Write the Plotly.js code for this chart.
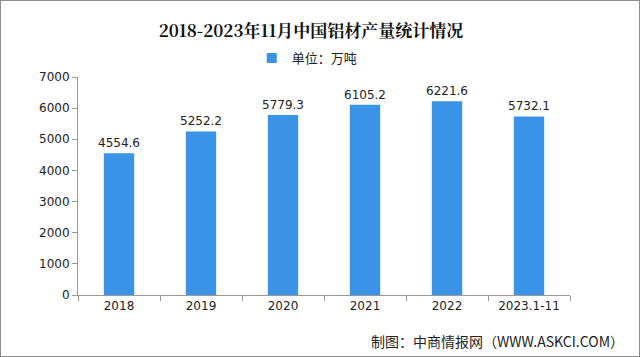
<!DOCTYPE html>
<html><head><meta charset="utf-8">
<script src="https://cdn.plot.ly/plotly-3.0.1.min.js"></script>
<style>
html,body{margin:0;padding:0;background:#fff;}
#wrap{width:638px;height:355px;border:1px solid #8c8c8c;position:relative;overflow:hidden;}
#chart{width:638px;height:355px;}
</style></head>
<body><div id="wrap"><div id="chart"></div></div>
<script>
const categories = ["2018","2019","2020","2021","2022","2023.1-11"];
const values = [4554.6, 5252.2, 5779.3, 6105.2, 6221.6, 5732.1];
const labels = ["4554.6","5252.2","5779.3","6105.2","6221.6","5732.1"];
const yTicks = [0,1000,2000,3000,4000,5000,6000,7000];
const titleText = "2018-2023年11月中国铝材产量统计情况";
const seriesName = "单位：万吨";
const sourceText = "制图：中商情报网（WWW.ASKCI.COM）";

const barColor = "#3b93e8";
const cjk = "'Noto Sans CJK SC', 'DejaVu Sans', sans-serif";

const trace = {
  type: "bar", x: categories, y: values, name: seriesName, showlegend: false,
  marker: {color: barColor},
  text: labels, textposition: "outside", cliponaxis: false, constraintext: "none",
  textfont: {family: "'DejaVu Sans', sans-serif", size: 12, color: "#222"},
  hoverinfo: "none"
};
const legendTrace = {
  type: "scatter", mode: "markers", x: [null], y: [null], name: seriesName,
  marker: {symbol: "square", size: 10, color: barColor}, showlegend: true, hoverinfo: "none"
};

const layout = {
  width: 638, height: 355,
  margin: {l: 77, r: 69, t: 76, b: 61},
  paper_bgcolor: "#fff", plot_bgcolor: "#fff",
  bargap: 0.63,
  showlegend: true,
  legend: {orientation: "h", x: 0.466, xanchor: "center", y: 1.087, yanchor: "middle",
    font: {family: cjk, size: 13, color: "#222"}, itemwidth: 30, traceorder: "normal"},
  title: {text: "<b>" + titleText + "</b>", x: 0.4736, xref: "paper", xanchor: "center", y: 0.915, yanchor: "middle",
    font: {family: "'Noto Serif CJK SC', 'Noto Sans CJK SC', serif", size: 17, color: "#111"}},
  xaxis: {type: "category", showline: true, linecolor: "#999", linewidth: 1,
    ticks: "outside", tickson: "boundaries", ticklen: 5, tickcolor: "#999", tickangle: 0,
    tickfont: {family: "'DejaVu Sans', sans-serif", size: 12, color: "#222"}, showgrid: false, fixedrange: true},
  yaxis: {range: [0, 7000], tickvals: yTicks, ticktext: yTicks.map(String), showline: true, linecolor: "#999",
    ticks: "outside", ticklen: 5, tickcolor: "#999", showgrid: false, zeroline: false,
    tickfont: {family: "'DejaVu Sans', sans-serif", size: 12, color: "#222"}, fixedrange: true},
  annotations: [{text: sourceText, xref: "paper", yref: "paper", x: 1.1138, y: -0.211, xanchor: "right", yanchor: "middle",
    showarrow: false, font: {family: cjk, size: 14, color: "#222"}}]
};
Plotly.newPlot("chart", [trace, legendTrace], layout, {displayModeBar: false, staticPlot: true});
</script></body></html>
